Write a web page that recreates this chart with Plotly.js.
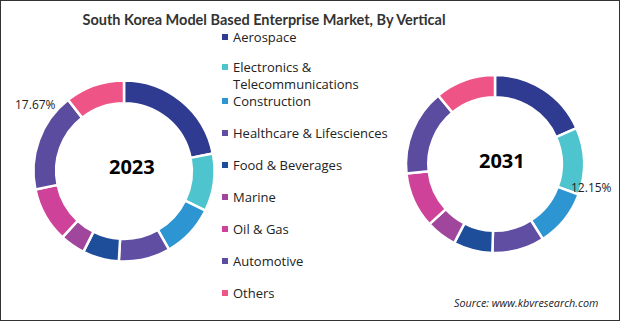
<!DOCTYPE html>
<html>
<head>
<meta charset="utf-8">
<script src="https://cdn.plot.ly/plotly-3.0.1.min.js"></script>
<style>html,body{margin:0;padding:0;background:#fff;}#chart{width:620px;height:321px;}</style>
</head>
<body>
<div id="chart"></div>
<script>
// ---- data ----
const categories = ['Aerospace', 'Electronics & Telecommunications', 'Construction', 'Healthcare & Lifesciences', 'Food & Beverages', 'Marine', 'Oil & Gas', 'Automotive', 'Others'];
const legendLabels = ['Aerospace', 'Electronics &<br>Telecommunications', 'Construction', 'Healthcare & Lifesciences', 'Food & Beverages', 'Marine', 'Oil & Gas', 'Automotive', 'Others'];
const share2023 = [21.9, 10.3, 9.5, 9.2, 6.5, 4.5, 9.8, 17.67, 10.6];
const share2031 = [18.4, 12.15, 10.4, 9.5, 7.1, 5.6, 10.1, 15.7, 11.0];
const years = ['2023', '2031'];
const labelled2023 = 'Automotive';
const labelled2031 = 'Electronics & Telecommunications';
const colors = ['#2E3B90', '#4EC5CE', '#2D95D2', '#5F4EA2', '#1E4D9A', '#A0469C', '#CF429A', '#5C4C9F', '#EE5486'];

const W = 620, H = 321;
const px = x => x / W;
const py = y => 1 - y / H;

const fontFam = '"Open Sans", "Liberation Sans", sans-serif';
const titleFam = 'Lato, "Open Sans", sans-serif';

function donut(values, cx, cy, r, name) {
  return {
    type: 'pie',
    name: name,
    labels: categories,
    values: values,
    sort: false,
    direction: 'clockwise',
    rotation: 0,
    hole: 0.75,
    textinfo: 'none',
    showlegend: false,
    marker: { colors: colors, line: { color: '#ffffff', width: 2.5 } },
    domain: { x: [px(cx - r), px(cx + r)], y: [py(cy + r), py(cy - r)] }
  };
}

const data = [
  donut(share2023, 124, 171, 90.5, years[0]),
  donut(share2031, 495, 164, 89, years[1])
];

const annotations = [];
const shapes = [];

function note(x, y, text, font, xanchor) {
  annotations.push({ x: px(x), y: py(y), xref: 'paper', yref: 'paper', xanchor: xanchor || 'center', yanchor: 'middle', text: text, showarrow: false, font: font });
}

// center year labels
note(132, 167, '<b>' + years[0] + '</b>', { family: fontFam, size: 20, color: '#000' });
note(502, 160, '<b>' + years[1] + '</b>', { family: fontFam, size: 20, color: '#000' });

// percentage labels
note(35, 105, share2023[categories.indexOf(labelled2023)].toFixed(2) + '%', { family: fontFam, size: 12, color: '#222' });
note(591, 188, share2031[categories.indexOf(labelled2031)].toFixed(2) + '%', { family: fontFam, size: 12, color: '#222' });

// manual legend
const legX = 222, legY0 = 37, legStep = 32, legFont = 13, lineH = 16;
legendLabels.forEach((lab, i) => {
  let yc = legY0 + i * legStep;
  if (i === 1) yc -= 2;
  const nLines = lab.split('<br>').length;
  shapes.push({ type: 'rect', xref: 'paper', yref: 'paper', x0: px(legX), x1: px(legX + 6), y0: py(yc + 3), y1: py(yc - 3), fillcolor: colors[i], line: { width: 0 } });
  annotations.push({ x: px(legX + 9), y: py(yc + (nLines - 1) * lineH / 2), xref: 'paper', yref: 'paper', xanchor: 'left', yanchor: 'middle', align: 'left', text: lab, showarrow: false, font: { family: fontFam, size: legFont, color: '#222' } });
});

// source
note(600, 302, '<i>Source: www.kbvresearch.com</i>', { family: fontFam, size: 10.8, color: '#222' }, 'right');

// frame
shapes.push({ type: 'rect', xref: 'paper', yref: 'paper', x0: 0, x1: 1, y0: 0, y1: 1, line: { color: '#333', width: 2 }, fillcolor: 'rgba(0,0,0,0)' });

const layout = {
  width: W, height: H,
  margin: { l: 0, r: 0, t: 0, b: 0 },
  paper_bgcolor: '#fff',
  title: { text: '<b>South Korea Model Based Enterprise Market, By Vertical</b>', x: px(264), xanchor: 'center', y: py(20), yanchor: 'middle', font: { family: titleFam, size: 14.5, color: '#333' } },
  showlegend: false,
  annotations: annotations,
  shapes: shapes
};

Plotly.newPlot('chart', data, layout, { displayModeBar: false, staticPlot: true });
</script>
</body>
</html>
